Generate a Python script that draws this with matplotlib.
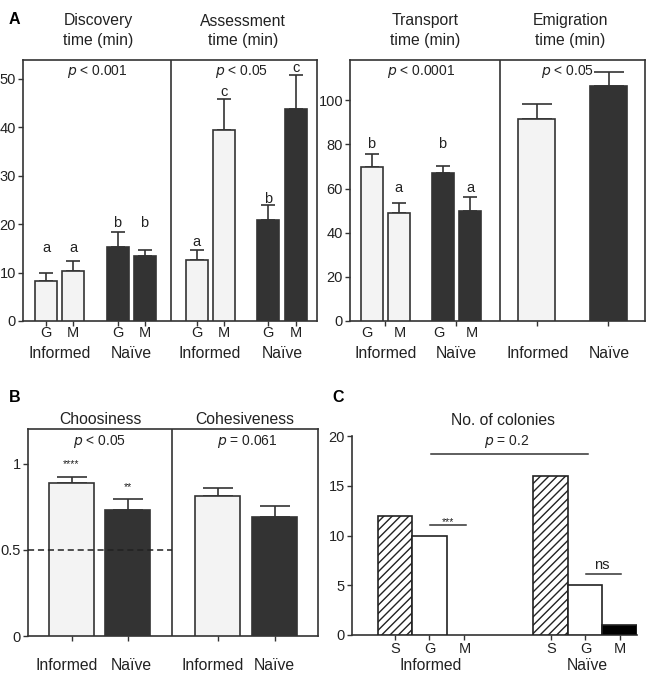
import matplotlib
matplotlib.use("Agg")
import matplotlib.pyplot as plt
import numpy as np

plt.rcParams['font.family'] = ['Liberation Sans', 'DejaVu Sans']
plt.rcParams['hatch.linewidth'] = 1.0

# ---------------- data ----------------
groups = ["Informed", "Naïve"]
sub = ["G", "M"]

disc_mean = [8.35, 10.35, 15.25, 13.45]
disc_err = [1.6, 2.0, 3.05, 1.3]
disc_letters = ["a", "a", "b", "b"]
disc_letter_y = [15.1, 15.1, 20.2, 20.2]

assess_mean = [12.55, 39.4, 20.95, 43.85]
assess_err = [2.2, 6.4, 3.05, 6.9]
assess_letters = ["a", "c", "b", "c"]
assess_letter_y = [16.4, 47.2, 25.2, 52.2]

transport_mean = [69.9, 48.9, 67.0, 49.9]
transport_err = [5.7, 4.4, 3.3, 6.1]
transport_letters = ["b", "a", "b", "a"]
transport_letter_y = [80.2, 60.1, 80.2, 60.1]

emig_mean = [91.4, 106.4]
emig_err = [7.1, 6.6]

choos_mean = [0.886, 0.729]
choos_err = [0.036, 0.064]
choos_stars = ["****", "**"]
coh_mean = [0.810, 0.692]
coh_err = [0.050, 0.062]

col_cats = ["S", "G", "M"]
col_inf = [12, 10, 0]
col_nai = [16, 5, 1]

# ---------------- layout helpers ----------------
W, H = 651, 678
fig = plt.figure(figsize=(W / 100, H / 100), dpi=100)

def rect(x0, y0, x1, y1):
    return [x0 / W, 1 - y1 / H, (x1 - x0) / W, (y1 - y0) / H]

def ftext(x, y, s, **kw):
    kw.setdefault('ha', 'center')
    kw.setdefault('va', 'center')
    kw.setdefault('fontsize', 11.3)
    kw.setdefault('color', '#222222')
    fig.text(x / W, 1 - y / H, s, **kw)

LIGHT = '#f3f3f3'
DARK = '#333333'
EDGE = '#333333'
LW = 1.2

def box_style(ax):
    for sp in ax.spines.values():
        sp.set_color(EDGE)
        sp.set_linewidth(LW)
    ax.tick_params(axis='both', colors=EDGE, labelcolor='#222222', labelsize=10.5,
                   width=1.0, length=3.5, pad=1.5)

def bars(ax, xs, means, errs, colors, width, cap):
    ax.bar(xs, means, width=width, color=colors, edgecolor=EDGE, linewidth=LW, zorder=3)
    ax.errorbar(xs, means, yerr=[np.zeros(len(means)), errs], fmt='none', ecolor=EDGE,
                elinewidth=LW, capsize=cap, capthick=LW, zorder=2)

cols4 = [LIGHT, LIGHT, DARK, DARK]

# ---------------- Panel A left ----------------
axA1 = fig.add_axes(rect(23, 60, 317, 321))
box_style(axA1)
xd = [46, 73, 117.5, 144.5]
xa = [196.5, 224, 268, 296]
bars(axA1, xd, disc_mean, disc_err, cols4, 22, 4.8)
bars(axA1, xa, assess_mean, assess_err, cols4, 22, 4.8)
for x, s, y in zip(xd + xa, disc_letters + assess_letters, disc_letter_y + assess_letter_y):
    axA1.text(x, y, s, ha='center', va='center', fontsize=10.5, color='#222222')
axA1.axvline(171, color=EDGE, lw=LW)
axA1.set_xlim(23, 317)
axA1.set_ylim(0, 53.9)
axA1.set_yticks([0, 10, 20, 30, 40, 50])
axA1.set_xticks(xd + xa)
axA1.set_xticklabels([])
for i, x in enumerate(xd + xa):
    ftext(x, 333, sub[i % 2], fontsize=10.5)
for x, g in zip([59.5, 131, 210, 282], groups * 2):
    ftext(x, 353, g)
ftext(97, 72, r"$\it{p}$ < 0.001", fontsize=10)
ftext(242, 72, r"$\it{p}$ < 0.05", fontsize=10)

# ---------------- Panel A right ----------------
axA2 = fig.add_axes(rect(350, 60, 645, 321))
box_style(axA2)
xt = [371.5, 398.5, 442.5, 470]
xe = [536.5, 608.5]
bars(axA2, xt, transport_mean, transport_err, cols4, 22, 5.2)
bars(axA2, xe, emig_mean, emig_err, [LIGHT, DARK], 37, 11)
for x, s, y in zip(xt, transport_letters, transport_letter_y):
    axA2.text(x, y, s, ha='center', va='center', fontsize=10.5, color='#222222')
axA2.axvline(500, color=EDGE, lw=LW)
axA2.set_xlim(350, 645)
axA2.set_ylim(0, 118.3)
axA2.set_yticks([0, 20, 40, 60, 80, 100])
axA2.set_xticks([385, 456, 537, 608])
axA2.set_xticklabels([])
for i, x in enumerate([367, 400, 439, 472]):
    ftext(x, 333, sub[i % 2], fontsize=10.5)
for x, g in zip([385.5, 456, 537.5, 609.5], groups * 2):
    ftext(x, 353, g)
ftext(421, 72, r"$\it{p}$ < 0.0001", fontsize=10)
ftext(568, 72, r"$\it{p}$ < 0.05", fontsize=10)

# titles A
ftext(98, 21, "Discovery")
ftext(98, 40, "time (min)")
ftext(243, 21, "Assessment")
ftext(243, 40, "time (min)")
ftext(425, 21, "Transport")
ftext(425, 40, "time (min)")
ftext(570, 21, "Emigration")
ftext(570, 40, "time (min)")
ftext(14, 20, "A", fontweight='bold', fontsize=11.5, color='black')

# ---------------- Panel B ----------------
axB = fig.add_axes(rect(28, 429, 318, 636))
box_style(axB)
xc = [71.5, 127.5]
xh = [217.5, 274.5]
bars(axB, xc, choos_mean, choos_err, [LIGHT, DARK], 45, 11)
bars(axB, xh, coh_mean, coh_err, [LIGHT, DARK], 45, 11)
for x, m, e, s in zip(xc, choos_mean, choos_err, choos_stars):
    axB.annotate(s, (x, m + e), xytext=(0, 9), textcoords='offset points',
                 ha='center', va='center', fontsize=7.5, color='#222222')
axB.plot([28, 172], [0.5, 0.5], ls=(0, (4, 2.5)), color='#222222', lw=1.1, zorder=4)
axB.axvline(172, color=EDGE, lw=LW)
axB.set_xlim(28, 318)
axB.set_ylim(0, 1.2)
axB.set_yticks([0, 0.5, 1])
axB.set_yticklabels(["0", "0.5", "1"])
axB.set_xticks(xc + xh)
axB.set_xticklabels([])
for x, g in zip([67, 131, 213, 274], groups * 2):
    ftext(x, 666, g)
ftext(100, 419, "Choosiness")
ftext(245, 419, "Cohesiveness")
ftext(100, 441, r"$\it{p}$ < 0.05", fontsize=10)
ftext(247, 441, r"$\it{p}$ = 0.061", fontsize=10)
ftext(15, 397, "B", fontweight='bold', fontsize=11.5, color='black')

# ---------------- Panel C ----------------
axC = fig.add_axes(rect(352, 436, 637, 635))
box_style(axC)
axC.spines['top'].set_visible(False)
axC.spines['right'].set_visible(False)
xci = [395, 429.5, 464.5]
xcn = [551, 585.5, 620]
wC = 34.5
hatches = ['////', None, None]
colsC = ['white', 'white', 'black']
for xs, vals in [(xci, col_inf), (xcn, col_nai)]:
    for x, v, h, c in zip(xs, vals, hatches, colsC):
        if v > 0:
            axC.bar(x, v, width=wC, color=c, edgecolor='#222222', linewidth=LW,
                    hatch=h, zorder=3)
axC.set_xlim(352, 637.5)
axC.set_ylim(0, 20)
axC.set_yticks([0, 5, 10, 15, 20])
axC.set_xticks(xci + xcn)
axC.set_xticklabels([])
for x, s in zip(xci + xcn, col_cats * 2):
    ftext(x, 649, s, fontsize=10.5)
axC.plot([431, 588], [18.2, 18.2], color='#333333', lw=1.1, clip_on=False)
axC.plot([430, 466], [11.1, 11.1], color='#333333', lw=1.1)
axC.text(448, 11.35, "***", ha='center', va='center', fontsize=7.5, color='#222222')
axC.plot([586, 621], [6.1, 6.1], color='#333333', lw=1.1)
ftext(602, 565, "ns", fontsize=10.5)
ftext(502.5, 420.5, "No. of colonies")
ftext(507, 441, r"$\it{p}$ = 0.2", fontsize=10)
ftext(431, 666, "Informed")
ftext(587, 666, "Naïve")
ftext(338, 397, "C", fontweight='bold', fontsize=11.5, color='black')

fig.savefig("out.png", dpi=100)
